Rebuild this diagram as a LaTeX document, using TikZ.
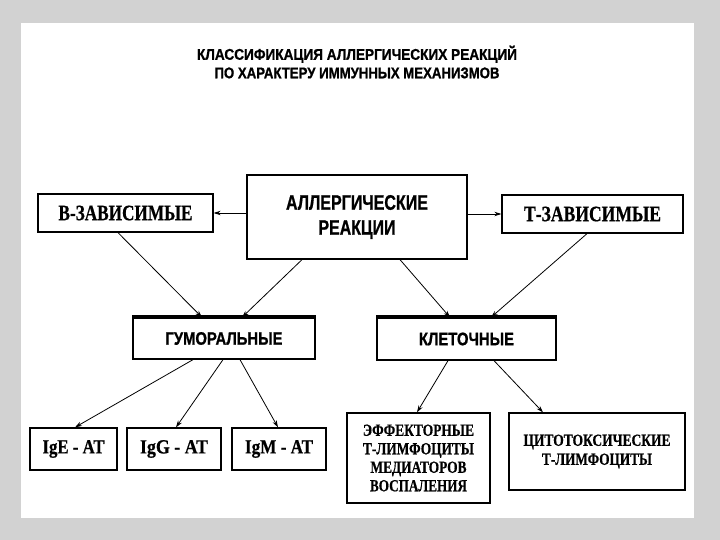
\documentclass[tikz,border=0pt]{standalone}
\usepackage{fontspec}
\setmainfont[BoldFeatures={FakeBold=0.7}]{Liberation Serif}
\newfontfamily\hsans[BoldFeatures={FakeBold=1.0}]{Liberation Sans}
\usetikzlibrary{arrows.meta}
\newcommand\fitw[2]{\resizebox{#1}{\height}{#2}}
\definecolor{marble}{RGB}{210,210,210}
\begin{document}
\begin{tikzpicture}[x=1pt,y=-1pt,
  box/.style={draw=black, line width=1.3pt, fill=white, inner sep=0pt},
  sanst/.style={font=\hsans\bfseries\fontsize{#1}{#1}\selectfont},
  serift/.style={font=\bfseries\fontsize{#1}{#1}\selectfont},
  arr/.style={-{Stealth[length=7pt,width=4.5pt]}, line width=0.8pt},
  topbar/.style={line width=4pt}]
\useasboundingbox (0,0) rectangle (720,540);
\fill[marble] (0,0) rectangle (720,540);
\fill[white] (21,23) rectangle (694,518);

% title
\node[sanst=15.5, align=center, text depth=0pt] (title) at (357,62)
  {\fitw{320pt}{КЛАССИФИКАЦИЯ АЛЛЕРГИЧЕСКИХ РЕАКЦИЙ}\\[3pt]
   \fitw{285pt}{ПО ХАРАКТЕРУ ИММУННЫХ МЕХАНИЗМОВ}};

% top row
\node[box, minimum width=220pt, minimum height=84pt, sanst=21, align=center] (c) at (357,217)
  {\fitw{142pt}{АЛЛЕРГИЧЕСКИЕ}\\[4pt]\fitw{77pt}{РЕАКЦИИ}};
\node[box, minimum width=175pt, minimum height=38pt, serift=22] (b) at (125.5,213)
  {\fitw{134pt}{В-ЗАВИСИМЫЕ}};
\node[box, minimum width=181pt, minimum height=38pt, serift=22] (t) at (592.5,214)
  {\fitw{137pt}{Т-ЗАВИСИМЫЕ}};

% middle row
\node[box, minimum width=182pt, minimum height=41pt, sanst=18] (g) at (224,338.5)
  {\fitw{117pt}{ГУМОРАЛЬНЫЕ}};
\node[box, minimum width=179pt, minimum height=42pt, sanst=18] (k) at (466.5,339)
  {\fitw{95pt}{КЛЕТОЧНЫЕ}};
\draw[topbar] (g.north west) -- (g.north east);
\draw[topbar] (k.north west) -- (k.north east);

% bottom row
\node[box, minimum width=87pt, minimum height=42pt, serift=20] (e) at (73.5,449)
  {\fitw{62pt}{IgE - АТ}};
\node[box, minimum width=94pt, minimum height=42pt, serift=20] (gg) at (174,449)
  {\fitw{68pt}{IgG - АТ}};
\node[box, minimum width=94pt, minimum height=42pt, serift=20] (gm) at (279,449)
  {\fitw{68pt}{IgM - АТ}};
\node[box, minimum width=143pt, minimum height=90pt, serift=17, align=center] (ef) at (418.5,458)
  {\fitw{111pt}{ЭФФЕКТОРНЫЕ}\\[1.5pt]\fitw{111pt}{Т-ЛИМФОЦИТЫ}\\[1.5pt]
   \fitw{96pt}{МЕДИАТОРОВ}\\[1.5pt]\fitw{97pt}{ВОСПАЛЕНИЯ}};
\node[box, minimum width=176pt, minimum height=77pt, serift=17, align=center] (cy) at (597,451.5)
  {\fitw{147pt}{ЦИТОТОКСИЧЕСКИЕ}\\[2pt]\fitw{110pt}{Т-ЛИМФОЦИТЫ}};

% connectors
\draw[arr] (c.west |- b.east) -- (b.east);
\draw[arr] (c.east |- t.west) -- (t.west);
\draw[arr] ([xshift=-7.5pt]b.south) -- ([xshift=-22pt]g.north);
\draw[arr] ([xshift=-55pt]c.south) -- ([xshift=18pt]g.north);
\draw[arr] ([xshift=43pt]c.south) -- ([xshift=-16.5pt]k.north);
\draw[arr] ([xshift=-5.5pt]t.south) -- ([xshift=24.5pt]k.north);
\draw[arr] ([xshift=-31pt]g.south) -- ([xshift=1.5pt]e.north);
\draw[arr] ([xshift=-1pt]g.south) -- ([xshift=2pt]gg.north);
\draw[arr] ([xshift=16pt]g.south) -- ([xshift=-1pt]gm.north);
\draw[arr] ([xshift=-18.5pt]k.south) -- ([xshift=-1.5pt]ef.north);
\draw[arr] ([xshift=27.5pt]k.south) -- ([xshift=-54pt]cy.north);
\end{tikzpicture}
\end{document}
